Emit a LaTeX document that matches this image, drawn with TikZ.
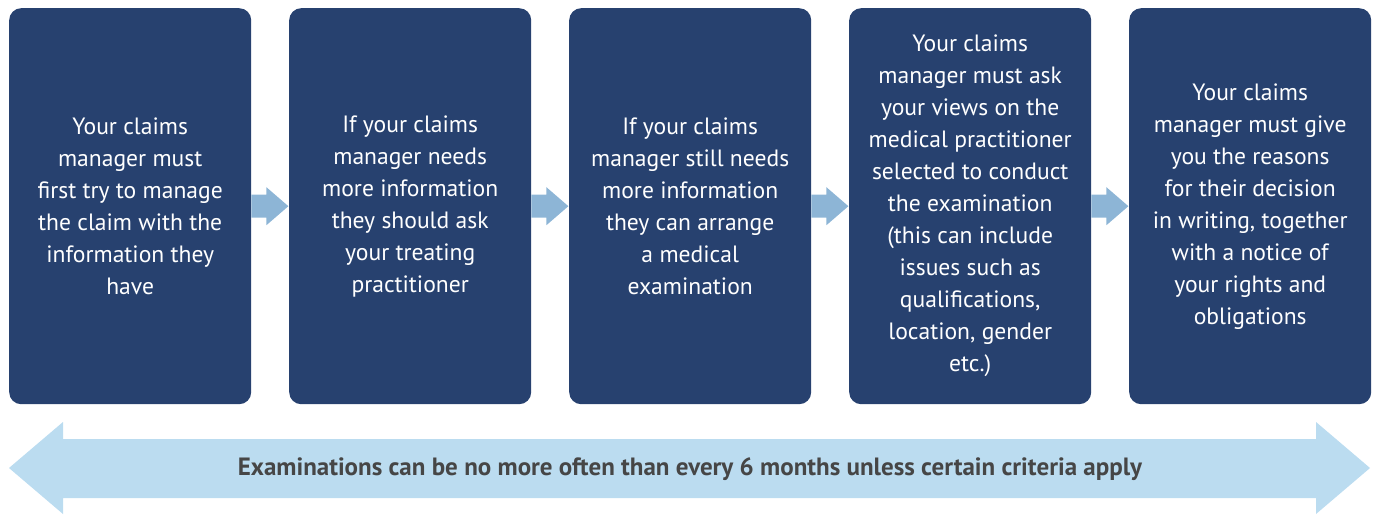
\documentclass[tikz,border=0pt]{standalone}
\usepackage{fontspec}
\setmainfont{PT Sans}
\definecolor{navy}{HTML}{27416F}
\definecolor{stepblue}{HTML}{8DB5D6}
\definecolor{bandblue}{HTML}{BBDCF0}
\definecolor{bandtext}{HTML}{464646}
\begin{document}
\begin{tikzpicture}[x=1pt,y=-1pt,
  stepbox/.style={fill=navy, rounded corners=12pt, minimum width=242pt,
    minimum height=396pt, inner sep=0pt, text=white, align=center,
    font=\fontsize{23.6}{32}\selectfont, anchor=north west},
  pointer/.style={fill=stepblue},
  band/.style={fill=bandblue},
  bandlabel/.style={text=bandtext, font=\bfseries\fontsize{25}{28}\selectfont}
]
\useasboundingbox (0,0) rectangle (1376,514);

% the five steps
\node[stepbox] (s1) at (9,8) {Your claims\\manager must\\first try to manage\\the claim with the\\information they\\have};
\node[stepbox] (s2) at (289,8) {If your claims\\manager needs\\more information\\they should ask\\your treating\\practitioner};
\node[stepbox] (s3) at (569,8) {If your claims\\manager still needs\\more information\\they can arrange\\a medical\\examination};
\node[stepbox] (s4) at (849,8) {Your claims\\manager must ask\\your views on the\\medical practitioner\\selected to conduct\\the examination\\(this can include\\issues such as\\qualifications,\\location, gender\\etc.)};
\node[stepbox] (s5) at (1129,8) {Your claims\\manager must give\\you the reasons\\for their decision\\in writing, together\\with a notice of\\your rights and\\obligations};

% block arrows between consecutive steps
\foreach \a in {1,2,3,4}{
  \fill[pointer, shift={(s\a.east)}] (0,-11.5) -- (15,-11.5) -- (15,-19) -- (37,0)
    -- (15,19) -- (15,11.5) -- (0,11.5) -- cycle;
}

% double-headed band along the bottom
\fill[band] (9,468) -- (63,422) -- (63,439) -- (1316,439) -- (1316,422) -- (1370,468)
  -- (1316,514) -- (1316,498) -- (63,498) -- (63,514) -- cycle;
\node[bandlabel] (note) at (690,469) {Examinations can be no more often than every 6 months unless certain criteria apply};
\end{tikzpicture}
\end{document}
